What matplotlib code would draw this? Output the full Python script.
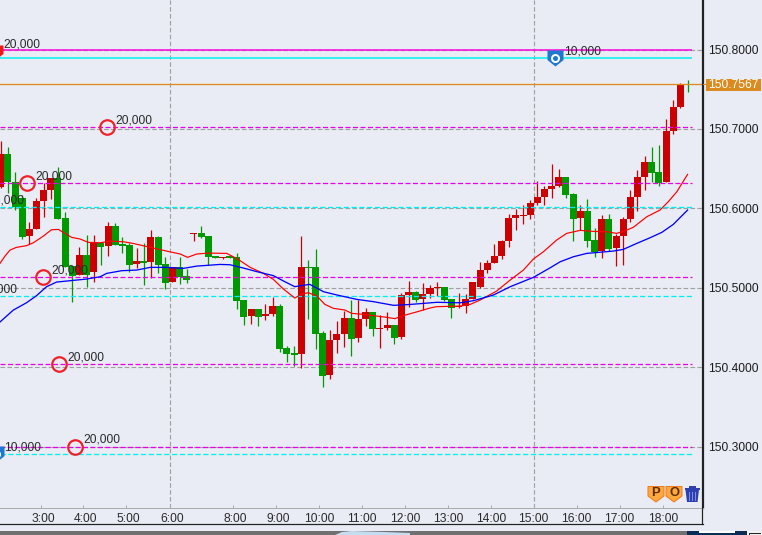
import numpy as np
import matplotlib
matplotlib.use("Agg")
import matplotlib.pyplot as plt
from matplotlib.patches import Polygon, Rectangle
from matplotlib.path import Path
from matplotlib.transforms import ScaledTranslation

plt.rcParams['font.family'] = ['Liberation Sans', 'DejaVu Sans']

W, H = 762, 535
BG = '#E9ECF4'
# prices given as pips above 150.0000
open_pips = [6272,6684,6327,6125,5650,5739,6091,6230,6377,5877,
             5272,5159,5411,5201,5566,5524,5776,5550,5537,5298,
             5335,5327,5634,5293,5071,5256,5146,5671,5688,5646,
             5394,5377,5398,5387,4845,4643,4732,4643,4669,4769,
             4240,4173,4165,5261,5261,4429,3900,4341,4417,4618,
             4366,4606,4694,4480,4492,4530,4379,4908,4946,4858,
             4921,4996,5009,4858,4757,4769,4857,5008,5222,5310,
             5398,5587,5877,5902,5915,6066,6142,6243,6280,6394,
             6180,5877,5965,5600,5461,5865,5499,5650,5865,6142,
             6394,6583,6457,6331,6973,7276,7566]
close_pips = [6684,6327,6012,5642,5739,6091,6230,6377,5869,5264,
              5151,5411,5159,5566,5516,5776,5541,5529,5289,5335,
              5310,5634,5289,5062,5256,5138,5100,5684,5638,5390,
              5373,5390,5373,4832,4631,4732,4631,4669,4769,4228,
              4165,4152,5261,5248,4417,3887,4341,4417,4618,4354,
              4606,4694,4480,4492,4530,4366,4908,4946,4845,4921,
              4996,5009,4845,4744,4769,4858,5071,5222,5310,5398,
              5587,5877,5915,5915,6066,6142,6243,6280,6394,6167,
              5865,5965,5587,5449,5865,5487,5650,5865,6142,6394,
              6583,6444,6318,6973,7276,7566,7557]
high_pips = [6847,6776,6453,6167,5823,6125,6314,6377,6516,5949,
             5272,5508,5659,5659,5566,5823,5810,5642,5558,5499,
             5558,5726,5650,5382,5256,5382,5230,5684,5776,5646,
             5394,5390,5398,5433,4845,4732,4732,4795,4883,4795,
             4265,4265,5651,5349,5488,4454,4467,4580,4706,4845,
             4845,4744,4694,4656,4694,4530,4933,5084,4958,5059,
             5034,5072,5009,4858,4933,4921,5071,5323,5348,5550,
             5600,5928,5991,6041,6104,6343,6280,6558,6495,6394,
             6192,6041,6117,5751,5915,5928,5676,5890,6230,6482,
             6658,6772,6797,7125,7364,7578,7616]
low_pips = [6251,6188,5978,5613,5545,5739,5894,6117,5869,5264,
            4823,5159,5012,5075,5285,5403,5541,5432,5201,5251,
            5033,5117,5180,4987,5071,5046,5062,5587,5625,5281,
            5373,5361,5373,4732,4530,4543,4517,4593,4643,4190,
            4064,4013,3988,4606,4228,3749,3850,4177,4253,4139,
            4316,4517,4391,4240,4467,4291,4354,4757,4820,4719,
            4870,4895,4832,4618,4744,4681,4857,4995,5184,5310,
            5361,5512,5726,5802,5865,6041,6041,6129,6268,6129,
            5587,5726,5512,5386,5373,5461,5272,5285,5827,5965,
            6230,6331,6280,6331,6936,7263,7465]

red_ma_x = [-0.1,.6,1.3,2.2,3.6,4.56,5.96,7.1,8.05,9.0,9.9,11.1,12.25,13.9,15.3,17.1,18.5,20.9,23.2,25.1,26.1,27.4,29.0,31.6,32.5,
            33.45,34.85,36.7,38.1,39.5,41.1,42.1,43.0,44.2,45.3,46.5,48.1,49.05,50.7,52.55,53.95,55.1,56.05,58.1,60.0,60.9,64.2,
            65.6,67.0,69.3,71.2,73.05,74.45,75.85,77.7,79.1,81.0,82.85,84.7,86.1,87.5,88.4,90.3,92.15,93.3,94.5,96.0]
red_ma_pips = [5306,5398,5474,5508,5529,5566,5650,5730,5734,5684,5634,5613,5571,5566,5587,5579,5558,5508,5461,5424,5382,5424,5436,5432,5390,
               5341,5257,5181,5105,4984,4870,4921,4937,4895,4790,4740,4719,4677,4664,4643,4627,4610,4643,4694,4744,4761,4769,
               4789,4844,4957,5096,5222,5361,5453,5600,5684,5722,5709,5705,5684,5726,5760,5894,5978,6083,6209,6427]
blue_ma_x = [-0.1,1.76,3.6,5.0,6.4,7.8,9.7,12.0,13.9,14.8,16.9,19.0,20.9,23.2,25.5,27.4,30.65,32.05,
             33.9,35.8,38.1,39.7,41.1,43.2,45.1,47.0,49.75,52.1,54.9,56.75,58.6,60.95,64.2,
             66.05,68.85,71.2,74.45,76.8,78.2,80.05,81.9,85.6,87.0,88.9,90.75,92.4,94.0,96.0]
blue_ma_pips = [4568,4718,4810,4899,5012,5071,5088,5109,5138,5180,5214,5222,5256,5256,5243,5272,5293,5289,
                5248,5202,5152,5076,5013,5042,4950,4908,4853,4824,4778,4786,4799,4816,4810,
                4836,4907,5012,5130,5251,5327,5390,5432,5461,5482,5558,5629,5697,5797,5978]

grid_prices = [150.8, 150.7, 150.6, 150.5, 150.4, 150.3]
price_labels = ['150.8000','150.7000','150.6000','150.5000','150.4000','150.3000']
magenta_dashed = [150.7020, 150.6315, 150.5131, 150.4035, 150.3000]
magenta_solid = [150.7994]
cyan_dashed = [150.6013, 150.4892, 150.2901]
cyan_solid = [150.7889]
last_price = 150.7567

tick_pos = [5.6,11.5,17.5,23.6,32.5,38.5,44.5,50.5,56.5,62.5,68.5,74.5,80.5,86.5,92.6]
tick_labels = ['3:00','4:00','5:00','6:00','8:00','9:00','10:00','11:00','12:00','13:00',
               '14:00','15:00','16:00','17:00','18:00']
vgrid_pos = [23.6, 74.5]

circle_x = [14.86, 3.68, 5.91, 8.15, 10.38]
circle_price = [150.7020, 150.6315, 150.5131, 150.4035, 150.3000]
circle_amount = ['20,000'] * 5
hidden_x = [-3.03, -4.0]
hidden_price = [150.6013, 150.4892]
hidden_amount = ['20,000', '20,000']
shield_x = [77.5, -0.72]
shield_price = [150.7889, 150.2901]
shield_amount = ['10,000', '10,000']
red_tag_x = [-0.7]
red_tag_price = [150.7969]
red_tag_amount = ['20,000']

def px(n):
    return n * 72 / 100

def to_price(p):
    return 150 + np.asarray(p, dtype=float) / 1e4

o, c, h, l = map(to_price, (open_pips, close_pips, high_pips, low_pips))

fig = plt.figure(figsize=(W/100, H/100), dpi=100, facecolor=BG)
ax = fig.add_axes([0, 1 - 507.5/H, 702.5/W, 507.5/H], facecolor=BG)
ax.set_xlim((0 - 0.7)/7.155, (702.5 - 0.7)/7.155)
ax.set_ylim(150.8 - (507.5 - 49.5)/794, 150.8 + 49.5/794)

for s in ('top', 'left'):
    ax.spines[s].set_visible(False)
ax.spines['right'].set_color('#222222')
ax.spines['right'].set_linewidth(px(1.2))
ax.spines['bottom'].set_color('#ABABAB')
ax.spines['bottom'].set_linewidth(px(1))

ax.yaxis.tick_right()
ax.set_yticks(grid_prices, price_labels)
ax.tick_params(axis='y', length=0, pad=px(6), labelsize=px(12), labelcolor='#1C1C1C')
ax.set_xticks(tick_pos, tick_labels)
ax.tick_params(axis='x', direction='in', length=px(3), width=px(1), color='#ABABAB',
               pad=px(5), labelsize=px(12), labelcolor='#2A2A2A')
nudge = ScaledTranslation(2.3/100, 0, fig.dpi_scale_trans)
for lab, name in zip(ax.get_xticklabels(), tick_labels):
    if len(name) == 4:
        lab.set_transform(lab.get_transform() + nudge)

dash = (0, (4, 2))
for p in grid_prices:
    ax.axhline(p, color='#A0A0A0', lw=px(1.15), ls=dash, zorder=1)
for v in vgrid_pos:
    ax.axvline(v, color='#A0A0A0', lw=px(1.15), ls=dash, zorder=1)

# candles
x = np.arange(len(o))
up = c >= o
cols = np.where(up, '#CC0000', '#009900')
ax.vlines(x, l, h, colors=cols, lw=px(1.25), zorder=3)
ax.bar(x, np.maximum(np.abs(c - o), 0.0003), bottom=np.minimum(o, c), width=0.98,
       color=cols, linewidth=0, zorder=3)

# level lines
xend = (692 - 0.7) / 7.155
x0 = ax.get_xlim()[0]
ax.hlines(magenta_dashed, x0, xend, colors='#E800E8', lw=px(1.25), linestyles=[dash], zorder=4)
ax.hlines(magenta_solid, x0, xend, colors='#FF00E0', lw=px(1.5), zorder=4)
ax.hlines(cyan_dashed, x0, xend, colors='#00EEF5', lw=px(1.3), linestyles=[dash], zorder=4)
ax.hlines(cyan_solid, x0, xend, colors='#00F0F0', lw=px(1.5), zorder=4)
ax.axhline(last_price, color='#E08A1C', lw=px(1.3), zorder=4)

# moving averages
ax.plot(red_ma_x, to_price(red_ma_pips), color='#FF0000', lw=px(1.2), zorder=5)
ax.plot(blue_ma_x, to_price(blue_ma_pips), color='#0000FF', lw=px(1.3), zorder=5)

# order markers
ax.plot(circle_x, circle_price, ls='', marker='o', ms=px(14.5), mfc='none', mec='#F02028', mew=px(2.2), zorder=7)
tag = Path([(-1, 1), (1, 1), (1, -.2), (0, -1), (-1, -.2), (-1, 1)], closed=True)
ax.plot(shield_x, shield_price, ls='', marker=tag, ms=px(16), mfc='#1C78D0', mec='none', zorder=7)
ax.plot(shield_x, shield_price, ls='', marker='o', ms=px(7), mfc='#1C78D0', mec='white', mew=px(2), zorder=8)
ax.plot(red_tag_x, red_tag_price, ls='', marker=tag, ms=px(14), mfc='#F01818', mec='none', zorder=7)

for xs, ps, ts, off in ((circle_x, circle_price, circle_amount, 8.5),
                        (hidden_x, hidden_price, hidden_amount, 8.5),
                        (shield_x, shield_price, shield_amount, 8.5),
                        (red_tag_x, red_tag_price, red_tag_amount, 7.5)):
    for a, b, t in zip(xs, ps, ts):
        ax.annotate(t, (a, b), xytext=(px(off), px(7)), textcoords='offset points',
                    fontsize=px(12), color='#2A2A2A', va='center', ha='left',
                    annotation_clip=False, clip_on=True, zorder=9)

# last price box and window furniture, in pixel coordinates
ui = fig.add_axes([0, 0, 1, 1], facecolor='none')
ui.set_xlim(0, W)
ui.set_ylim(H, 0)
ui.axis('off')
ui.add_patch(Rectangle((702, 84), 5, 1.3, color='#E08A1C', lw=0))
ui.add_patch(Rectangle((706, 79), 55, 12, color='#DA8A1E', lw=0))
ui.text(733.5, 85.3, f'{last_price:.4f}', color='white', fontsize=px(12), ha='center', va='center')
ui.plot([702.3, 702.3], [0, 524], color='#222222', lw=px(1.2))
ui.plot([0, 702.8], [524, 524], color='#222222', lw=px(1.2))

ui.add_patch(Rectangle((0, 531), 687, 4, color='#707070', lw=0))
ui.add_patch(Polygon([(335, 535), (342, 532), (352, 531), (385, 532), (410, 533), (410, 535)], color='#C6DCF0', lw=0))
ui.add_patch(Rectangle((687, 531), 60, 4, color='#0B2D55', lw=0))
ui.add_patch(Rectangle((699, 531), 36, 1.6, color='#FFFFFF', lw=0))
ui.add_patch(Rectangle((747, 531), 15, 4, color='#F2F2F2', lw=0))
ui.plot([749, 749, 760], [535, 532.5, 532.5], color='#222222', lw=px(1))

for cx, letter in ((656, 'P'), (674, 'O')):
    pts = [(cx-8, 486.5), (cx+8, 486.5), (cx+8, 496), (cx, 502), (cx-8, 496)]
    ui.add_patch(Polygon(pts, closed=True, fc='#FFA83C', ec='#F07A20', lw=px(1)))
    ui.text(cx, 493.3, letter, fontsize=px(13), fontweight='bold', color='#5A2A00', ha='center', va='center')

ui.add_patch(Polygon([(685.5, 490), (699, 490), (697.5, 502), (687, 502)], closed=True, fc='#2E3FB0', lw=0))
ui.add_patch(Rectangle((684.5, 488), 15, 1.6, color='#2E3FB0', lw=0))
ui.add_patch(Rectangle((689, 486), 6.5, 1.6, color='#2E3FB0', lw=0))
for sx in (689.2, 692.2, 695.2):
    ui.add_patch(Rectangle((sx, 491.5), 1, 9.5, color='#7C8CE0', lw=0))

fig.savefig('out.png', dpi=100, facecolor=BG)
